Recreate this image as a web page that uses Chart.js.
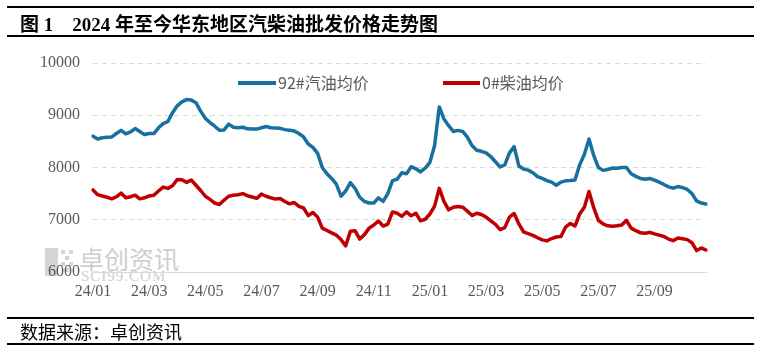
<!DOCTYPE html>
<html><head><meta charset="utf-8">
<script src="https://cdn.jsdelivr.net/npm/chart.js@4.4.1/dist/chart.umd.min.js"></script>
<style>
html,body{margin:0;padding:0;background:#fff;}
#wrap{position:relative;width:761px;height:356px;overflow:hidden;background:#fff;}
#c{position:absolute;left:0;top:0;z-index:2;}
.rule{position:absolute;left:7px;width:747px;height:2px;background:#000;z-index:3;}
#title{position:absolute;left:20px;top:9px;font:bold 19px "Liberation Serif","Noto Sans CJK SC",serif;color:#000;white-space:pre;z-index:3;}
#source{position:absolute;left:20px;top:319px;font:18px "Noto Sans CJK SC",sans-serif;line-height:24px;color:#000;z-index:3;}
.leg{position:absolute;font:16px "Noto Sans CJK SC",sans-serif;color:#595959;line-height:18px;z-index:3;white-space:nowrap;}
.legline{position:absolute;height:4px;z-index:3;}
#wm{position:absolute;left:45px;top:244px;z-index:1;color:#cfcfcf;}
#wmlogo{position:absolute;left:0;top:4px;width:30px;height:28px;}
#wmtext{position:absolute;left:34px;top:0;font:25px "Noto Sans CJK SC",sans-serif;line-height:28px;white-space:nowrap;}
#wmurl{position:absolute;left:36px;top:25px;font:15px "Liberation Serif",serif;line-height:15px;letter-spacing:1px;white-space:nowrap;}
</style></head>
<body>
<div id="wrap">
  <div class="rule" style="top:6px"></div>
  <div id="title">图 1　2024 年至今华东地区汽柴油批发价格走势图</div>
  <div class="rule" style="top:35px"></div>
  <div id="wm">
    <svg id="wmlogo" viewBox="0 0 30 28"><rect x="0" y="0" width="13" height="28" fill="#d4d4d4"/><rect x="16" y="2" width="4" height="4" fill="#d4d4d4"/><rect x="24" y="2" width="4" height="4" fill="#d4d4d4"/><rect x="20" y="8" width="4" height="4" fill="#d4d4d4"/><rect x="16" y="14" width="4" height="4" fill="#d4d4d4"/><rect x="24" y="14" width="4" height="4" fill="#d4d4d4"/><rect x="20" y="20" width="4" height="4" fill="#d4d4d4"/></svg>
    <div id="wmtext">卓创资讯</div>
    <div id="wmurl">SCI99.COM</div>
  </div>
  <canvas id="c" width="761" height="356"></canvas>
  <div class="rule" style="top:317px"></div>
  <div id="source">数据来源：卓创资讯</div>
  <div class="rule" style="top:343px"></div>
</div>
<script>
// x-axis tick labels (every two months)
const monthTicks = ['24/01','24/03','24/05','24/07','24/09','24/11','25/01','25/03','25/05','25/07','25/09'];
const pointsPerTick = 12;
const seriesNames = ['92#汽油均价','0#柴油均价'];
// 92# gasoline average wholesale price (yuan/ton)
const gasoline92 = [
8600,8545,8570,8580,8585,8650,8710,8645,8680,8745,8690,8630,
8650,8650,8760,8840,8880,9050,9180,9255,9300,9290,9240,9080,
8940,8860,8790,8715,8720,8830,8770,8760,8770,8740,8735,8735,
8760,8785,8760,8755,8750,8725,8715,8700,8650,8585,8450,8385,
8270,8000,7880,7790,7680,7450,7550,7710,7600,7430,7350,7320,
7320,7420,7350,7500,7750,7775,7900,7880,8015,7975,7915,7990,
8100,8420,9160,8930,8800,8690,8710,8690,8580,8420,8330,8310,
8280,8210,8110,8010,8050,8280,8400,8030,7970,7950,7900,7825,
7790,7750,7720,7660,7720,7745,7750,7760,8050,8250,8545,8230,
8000,7945,7960,7990,7985,8000,8000,7880,7830,7790,7775,7790,
7760,7720,7675,7630,7605,7635,7615,7580,7500,7360,7320,7300
];
// 0# diesel average wholesale price (yuan/ton)
const diesel0 = [
7570,7480,7455,7430,7400,7440,7510,7420,7440,7470,7400,7420,
7455,7470,7550,7625,7600,7650,7770,7765,7715,7760,7660,7560,
7450,7390,7320,7290,7375,7450,7470,7480,7500,7460,7435,7410,
7490,7450,7420,7395,7405,7350,7305,7330,7255,7225,7080,7140,
7050,6840,6795,6750,6705,6620,6500,6780,6790,6630,6715,6840,
6900,6975,6880,6915,7150,7125,7065,7150,7075,7125,6980,7010,
7110,7260,7600,7350,7190,7240,7255,7240,7165,7080,7125,7100,
7050,6980,6910,6810,6850,7050,7120,6920,6770,6735,6700,6655,
6615,6595,6640,6670,6680,6860,6930,6880,7110,7240,7540,7230,
6990,6920,6885,6875,6885,6900,6990,6840,6790,6750,6740,6760,
6730,6705,6680,6630,6600,6650,6635,6620,6560,6410,6460,6420
];
const seriesColors = ['#1870a0','#c00000'];

const labels = gasoline92.map((_, i) => (i % pointsPerTick === 0 && monthTicks[i / pointsPerTick]) ? monthTicks[i / pointsPerTick] : '');
const tickFont = {family:'"Liberation Serif", serif', size:16};

const chart = new Chart(document.getElementById('c'), {
  type:'line',
  data:{
    labels,
    datasets:[
      {label:seriesNames[0], data:gasoline92, borderColor:seriesColors[0], backgroundColor:seriesColors[0], borderWidth:3.5, pointRadius:0, tension:0, borderJoinStyle:'round', borderCapStyle:'round'},
      {label:seriesNames[1], data:diesel0, borderColor:seriesColors[1], backgroundColor:seriesColors[1], borderWidth:3.5, pointRadius:0, tension:0, borderJoinStyle:'round', borderCapStyle:'round'}
    ]
  },
  options:{
    responsive:false, animation:false, devicePixelRatio:1,
    layout:{padding:{left:0, top:63, right:55, bottom:54}},
    plugins:{legend:{display:false}, tooltip:{enabled:false}, title:{display:false}},
    scales:{
      x:{
        grid:{display:false, drawTicks:false},
        border:{display:true, color:'#d9d9d9', width:1},
        ticks:{autoSkip:false, maxRotation:0, minRotation:0, padding:10, color:'#595959', font:tickFont,
          callback:(v, i) => labels[i] || null},
        afterFit:s => { s.height = 30; }
      },
      y:{
        min:6000, max:10000,
        grid:{color:'#d9d9d9', lineWidth:1, drawTicks:false},
        border:{display:false, dash:[5,4]},
        ticks:{stepSize:1000, padding:13, color:'#595959', font:tickFont,
          callback:v => String(v)},
        afterFit:s => { s.width = 93; }
      }
    }
  }
});

// legend inside the plot area, built from the datasets
const legPos = [{x:238, w:38}, {x:443, w:37}];
const wrap = document.getElementById('wrap');
chart.data.datasets.forEach((ds, i) => {
  const ln = document.createElement('div');
  ln.className = 'legline';
  ln.style.left = legPos[i].x + 'px';
  ln.style.top = '81px';
  ln.style.width = legPos[i].w + 'px';
  ln.style.background = ds.borderColor;
  wrap.appendChild(ln);
  const tx = document.createElement('div');
  tx.className = 'leg';
  tx.style.left = (legPos[i].x + legPos[i].w + 2) + 'px';
  tx.style.top = '73px';
  tx.textContent = ds.label;
  wrap.appendChild(tx);
});
</script>
</body></html>
